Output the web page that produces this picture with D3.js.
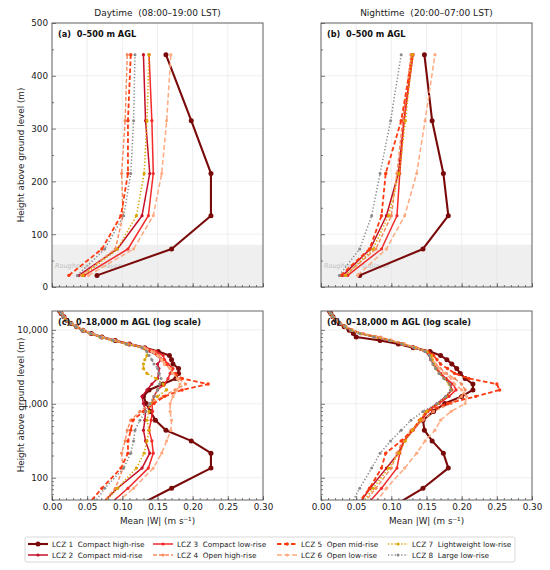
<!DOCTYPE html>
<html>
<head>
<meta charset="utf-8">
<script src="https://cdn.jsdelivr.net/npm/d3@7"></script>
<style>
  body { margin: 0; background: #fff; }
  svg text { font-family: "DejaVu Sans", sans-serif; white-space: pre; }
</style>
</head>
<body>
<div id="chart"></div>
<script>
// model levels (m AGL)
const heights = [22, 72, 135, 215, 315, 440, 600, 790, 1010, 1260, 1540, 1850, 2200, 2580, 3000, 3450,
  3950, 4500, 5100, 5750, 6450, 7200, 8000, 8900, 9900, 11000, 12200, 13500, 15000, 16600, 18000];

const lczNames = ["LCZ 1  Compact high-rise", "LCZ 2  Compact mid-rise", "LCZ 3  Compact low-rise",
  "LCZ 4  Open high-rise", "LCZ 5  Open mid-rise", "LCZ 6  Open low-rise",
  "LCZ 7  Lightweight low-rise", "LCZ 8  Large low-rise"];

// daytime mean |W| (m/s)
const dayLCZ1 = [0.064, 0.170, 0.226, 0.226, 0.198, 0.162, 0.147, 0.140, 0.134, 0.130, 0.138, 0.158, 0.176, 0.180, 0.180, 0.172, 0.170, 0.167, 0.151, 0.132, 0.110, 0.090, 0.071, 0.056, 0.044, 0.035, 0.027, 0.021, 0.017, 0.013, 0.011];
const dayLCZ2 = [0.038, 0.093, 0.128, 0.139, 0.133, 0.130, 0.132, 0.133, 0.130, 0.128, 0.135, 0.142, 0.150, 0.152, 0.152, 0.150, 0.155, 0.150, 0.140, 0.128, 0.106, 0.087, 0.069, 0.054, 0.043, 0.034, 0.026, 0.021, 0.016, 0.013, 0.011];
const dayLCZ3 = [0.046, 0.108, 0.137, 0.144, 0.142, 0.138, 0.141, 0.143, 0.142, 0.145, 0.150, 0.160, 0.165, 0.168, 0.172, 0.165, 0.160, 0.158, 0.148, 0.132, 0.108, 0.089, 0.070, 0.055, 0.044, 0.035, 0.027, 0.021, 0.017, 0.013, 0.011];
const dayLCZ4 = [0.042, 0.090, 0.101, 0.099, 0.104, 0.107, 0.112, 0.125, 0.140, 0.158, 0.175, 0.190, 0.180, 0.172, 0.168, 0.160, 0.156, 0.152, 0.145, 0.132, 0.110, 0.090, 0.072, 0.057, 0.045, 0.036, 0.028, 0.022, 0.017, 0.014, 0.012];
const dayLCZ5 = [0.024, 0.071, 0.098, 0.108, 0.108, 0.112, 0.115, 0.130, 0.145, 0.160, 0.185, 0.222, 0.185, 0.175, 0.170, 0.162, 0.158, 0.150, 0.142, 0.130, 0.108, 0.088, 0.070, 0.056, 0.044, 0.035, 0.027, 0.021, 0.017, 0.013, 0.011];
const dayLCZ6 = [0.052, 0.116, 0.144, 0.156, 0.163, 0.169, 0.170, 0.168, 0.168, 0.172, 0.178, 0.182, 0.178, 0.172, 0.168, 0.160, 0.156, 0.150, 0.142, 0.130, 0.107, 0.088, 0.071, 0.056, 0.045, 0.036, 0.028, 0.022, 0.017, 0.014, 0.012];
const dayLCZ7 = [0.044, 0.093, 0.120, 0.131, 0.135, 0.138, 0.135, 0.138, 0.140, 0.150, 0.163, 0.158, 0.148, 0.135, 0.130, 0.130, 0.132, 0.135, 0.135, 0.128, 0.105, 0.086, 0.068, 0.054, 0.043, 0.034, 0.026, 0.020, 0.016, 0.013, 0.011];
const dayLCZ8 = [0.036, 0.075, 0.102, 0.112, 0.116, 0.118, 0.125, 0.133, 0.139, 0.145, 0.150, 0.153, 0.155, 0.152, 0.150, 0.145, 0.142, 0.138, 0.135, 0.128, 0.106, 0.087, 0.069, 0.055, 0.043, 0.034, 0.027, 0.021, 0.016, 0.013, 0.011];

// nighttime mean |W| (m/s)
const nightLCZ1 = [0.055, 0.145, 0.181, 0.174, 0.158, 0.147, 0.145, 0.160, 0.176, 0.200, 0.216, 0.216, 0.205, 0.198, 0.193, 0.186, 0.179, 0.170, 0.155, 0.131, 0.110, 0.084, 0.050, 0.046, 0.040, 0.033, 0.026, 0.021, 0.017, 0.014, 0.012];
const nightLCZ2 = [0.031, 0.070, 0.093, 0.110, 0.118, 0.130, 0.142, 0.150, 0.165, 0.178, 0.186, 0.184, 0.176, 0.169, 0.164, 0.160, 0.156, 0.154, 0.148, 0.132, 0.115, 0.098, 0.076, 0.056, 0.043, 0.034, 0.027, 0.021, 0.017, 0.014, 0.012];
const nightLCZ3 = [0.038, 0.086, 0.108, 0.112, 0.118, 0.131, 0.143, 0.152, 0.168, 0.182, 0.192, 0.188, 0.178, 0.170, 0.165, 0.160, 0.157, 0.155, 0.149, 0.133, 0.116, 0.099, 0.077, 0.057, 0.044, 0.035, 0.027, 0.021, 0.017, 0.014, 0.012];
const nightLCZ4 = [0.034, 0.078, 0.100, 0.108, 0.116, 0.128, 0.145, 0.160, 0.185, 0.200, 0.205, 0.200, 0.190, 0.178, 0.170, 0.163, 0.158, 0.155, 0.149, 0.134, 0.118, 0.100, 0.085, 0.060, 0.045, 0.035, 0.028, 0.022, 0.017, 0.014, 0.012];
const nightLCZ5 = [0.028, 0.069, 0.086, 0.092, 0.114, 0.130, 0.140, 0.150, 0.180, 0.220, 0.254, 0.250, 0.210, 0.190, 0.180, 0.170, 0.165, 0.160, 0.152, 0.135, 0.117, 0.099, 0.078, 0.058, 0.044, 0.035, 0.027, 0.021, 0.017, 0.014, 0.012];
const nightLCZ6 = [0.052, 0.093, 0.119, 0.136, 0.148, 0.162, 0.170, 0.185, 0.205, 0.207, 0.200, 0.190, 0.185, 0.175, 0.168, 0.162, 0.158, 0.155, 0.150, 0.134, 0.118, 0.100, 0.078, 0.058, 0.045, 0.035, 0.028, 0.022, 0.017, 0.014, 0.012];
const nightLCZ7 = [0.035, 0.074, 0.096, 0.111, 0.120, 0.130, 0.141, 0.150, 0.166, 0.178, 0.185, 0.182, 0.175, 0.168, 0.163, 0.160, 0.158, 0.157, 0.150, 0.133, 0.116, 0.098, 0.076, 0.056, 0.043, 0.034, 0.027, 0.021, 0.017, 0.014, 0.012];
const nightLCZ8 = [0.026, 0.055, 0.072, 0.084, 0.099, 0.114, 0.128, 0.145, 0.165, 0.177, 0.184, 0.183, 0.175, 0.168, 0.163, 0.159, 0.156, 0.154, 0.148, 0.132, 0.115, 0.097, 0.075, 0.055, 0.042, 0.034, 0.027, 0.021, 0.017, 0.014, 0.012];

const daySeries = [dayLCZ1, dayLCZ2, dayLCZ3, dayLCZ4, dayLCZ5, dayLCZ6, dayLCZ7, dayLCZ8];
const nightSeries = [nightLCZ1, nightLCZ2, nightLCZ3, nightLCZ4, nightLCZ5, nightLCZ6, nightLCZ7, nightLCZ8];

const xTicks = [0, 0.05, 0.10, 0.15, 0.20, 0.25, 0.30];
const linTicks = [0, 100, 200, 300, 400, 500];
const logTicks = [100, 1000, 10000];

// line styles per LCZ
const styles = [
  { color: "#7a0a0a", width: 2.1, dash: null, r: 2.5 },
  { color: "#c4102a", width: 1.5, dash: null, r: 1.6 },
  { color: "#f22a2a", width: 1.5, dash: null, r: 1.6 },
  { color: "#f7895a", width: 1.4, dash: "4,2", r: 1.6 },
  { color: "#ff3a10", width: 1.8, dash: "4.5,2.5", r: 1.7 },
  { color: "#ffaa80", width: 1.5, dash: "5,2.5", r: 1.6 },
  { color: "#d9a400", width: 1.6, dash: "1.3,2", r: 1.6 },
  { color: "#8a8a8a", width: 1.5, dash: "1.3,2", r: 1.5 }
];

const svg = d3.select("#chart").append("svg")
    .attr("width", 550)
    .attr("height", 570);

const panels = [
  { id: "a", left: 52, top: 23, w: 211, h: 264, log: false, series: daySeries, label: "(a)  0–500 m AGL", yLabels: true, xLabels: false },
  { id: "b", left: 321, top: 23, w: 211, h: 264, log: false, series: nightSeries, label: "(b)  0–500 m AGL", yLabels: false, xLabels: false },
  { id: "c", left: 52, top: 311, w: 211, h: 189, log: true, series: daySeries, label: "(c)  0–18,000 m AGL (log scale)", yLabels: true, xLabels: true },
  { id: "d", left: 321, top: 311, w: 211, h: 189, log: true, series: nightSeries, label: "(d)  0–18,000 m AGL (log scale)", yLabels: false, xLabels: true }
];

panels.forEach(p => {
  const g = svg.append("g").attr("transform", `translate(${p.left},${p.top})`);

  const x = d3.scaleLinear().domain([0, 0.30]).range([0, p.w]);
  const y = p.log
    ? d3.scaleLog().domain([50, 18000]).range([p.h, 0])
    : d3.scaleLinear().domain([0, 500]).range([p.h, 0]);

  g.append("clipPath").attr("id", "clip-" + p.id)
    .append("rect").attr("width", p.w).attr("height", p.h);

  // roughness sublayer shading
  if (!p.log) {
    g.append("rect")
      .attr("x", 0).attr("y", y(80))
      .attr("width", p.w).attr("height", y(0) - y(80))
      .attr("fill", "#efefef");
  }

  // grid
  const yGrid = p.log ? logTicks : linTicks;
  g.append("g").selectAll("line").data(xTicks).join("line")
    .attr("x1", d => x(d)).attr("x2", d => x(d))
    .attr("y1", 0).attr("y2", p.h)
    .attr("stroke", "#e4e4e4").attr("stroke-width", 0.6);
  g.append("g").selectAll("line").data(yGrid).join("line")
    .attr("x1", 0).attr("x2", p.w)
    .attr("y1", d => y(d)).attr("y2", d => y(d))
    .attr("stroke", "#e4e4e4").attr("stroke-width", 0.6);

  if (!p.log) {
    g.append("text")
      .attr("x", 3).attr("y", y(36))
      .attr("font-size", 6.5)
      .attr("font-style", "italic")
      .attr("fill", "#bdbdbd")
      .text("Roughness sublayer");
  }

  // profiles, LCZ 1 drawn first so later zones sit on top
  const plot = g.append("g").attr("clip-path", `url(#clip-${p.id})`);
  const line = d3.line()
    .x(d => x(d.v))
    .y(d => y(d.h));

  const maxH = p.log ? 18000 : 500;
  p.series.forEach((vals, i) => {
    const st = styles[i];
    const pts = heights.map((h, k) => ({ h: h, v: vals[k] })).filter(d => d.h <= maxH);
    plot.append("path")
      .datum(pts)
      .attr("fill", "none")
      .attr("stroke", st.color)
      .attr("stroke-width", st.width)
      .attr("stroke-dasharray", st.dash)
      .attr("stroke-linejoin", "round")
      .attr("d", line);
    plot.append("g").selectAll("circle").data(pts).join("circle")
      .attr("cx", d => x(d.v))
      .attr("cy", d => y(d.h))
      .attr("r", st.r)
      .attr("fill", st.color);
  });

  // axes with inward ticks
  const xAxis = d3.axisBottom(x).tickValues(xTicks)
    .tickSizeInner(-4).tickSizeOuter(0).tickPadding(4)
    .tickFormat(p.xLabels ? d3.format(".2f") : "");
  const xMinor = d3.axisBottom(x).tickValues(d3.range(0, 0.301, 0.01))
    .tickSizeInner(-2).tickSizeOuter(0).tickFormat("");
  const yAxis = d3.axisLeft(y).tickValues(yGrid)
    .tickSizeInner(-4).tickSizeOuter(0).tickPadding(4)
    .tickFormat(p.yLabels ? (p.log ? d3.format(",") : d3.format("d")) : "");
  let minorY;
  if (p.log) {
    minorY = [];
    [10, 100, 1000, 10000].forEach(dec => {
      for (let m = 2; m <= 9; m++) if (dec * m >= 50 && dec * m <= 18000) minorY.push(dec * m);
    });
  } else {
    minorY = d3.range(50, 500, 100);
  }
  const yMinor = d3.axisLeft(y).tickValues(minorY)
    .tickSizeInner(-2).tickSizeOuter(0).tickFormat("");

  [
    g.append("g").attr("transform", `translate(0,${p.h})`).call(xMinor),
    g.append("g").attr("transform", `translate(0,${p.h})`).call(xAxis),
    g.append("g").call(yMinor),
    g.append("g").call(yAxis)
  ].forEach(a => {
    a.select(".domain").remove();
    a.selectAll("line").attr("stroke", "#444").attr("stroke-width", 0.7);
    a.selectAll("text").attr("font-size", 8.8).attr("fill", "#222")
      .style("font-family", "DejaVu Sans");
  });

  // frame
  g.append("rect")
    .attr("width", p.w).attr("height", p.h)
    .attr("fill", "none").attr("stroke", "#555").attr("stroke-width", 0.9);

  g.append("text")
    .attr("x", 6).attr("y", 14)
    .attr("font-size", 8.2)
    .attr("font-weight", "bold")
    .attr("fill", "#111")
    .text(p.label);
});

// column titles
svg.append("text").attr("x", 157.5).attr("y", 16).attr("text-anchor", "middle")
  .attr("font-size", 9).attr("fill", "#222").text("Daytime  (08:00–19:00 LST)");
svg.append("text").attr("x", 426.5).attr("y", 16).attr("text-anchor", "middle")
  .attr("font-size", 9).attr("fill", "#222").text("Nighttime  (20:00–07:00 LST)");

// axis titles
[155, 405].forEach(cy => {
  svg.append("text")
    .attr("transform", `translate(24,${cy}) rotate(-90)`)
    .attr("text-anchor", "middle")
    .attr("font-size", 8.8).attr("fill", "#222")
    .text("Height above ground level (m)");
});
[157.5, 426.5].forEach(cx => {
  svg.append("text").attr("x", cx).attr("y", 524).attr("text-anchor", "middle")
    .attr("font-size", 8.8).attr("fill", "#222").text("Mean |W| (m s⁻¹)");
});

// legend
const legend = svg.append("g");
legend.append("rect")
  .attr("x", 25).attr("y", 537).attr("width", 490).attr("height", 25)
  .attr("rx", 2).attr("fill", "#fff").attr("stroke", "#cfcfcf").attr("stroke-width", 0.8);
const colX = [28, 153, 277, 388];
const rowY = [544, 555];
lczNames.forEach((name, i) => {
  const st = styles[i];
  const lx = colX[Math.floor(i / 2)];
  const ly = rowY[i % 2];
  legend.append("line")
    .attr("x1", lx).attr("x2", lx + 20).attr("y1", ly).attr("y2", ly)
    .attr("stroke", st.color).attr("stroke-width", st.width)
    .attr("stroke-dasharray", st.dash);
  legend.append("circle").attr("cx", lx + 10).attr("cy", ly).attr("r", st.r).attr("fill", st.color);
  legend.append("text")
    .attr("x", lx + 24).attr("y", ly + 2.6)
    .attr("font-size", 7.3).attr("fill", "#222")
    .text(name);
});
</script>
</body>
</html>
